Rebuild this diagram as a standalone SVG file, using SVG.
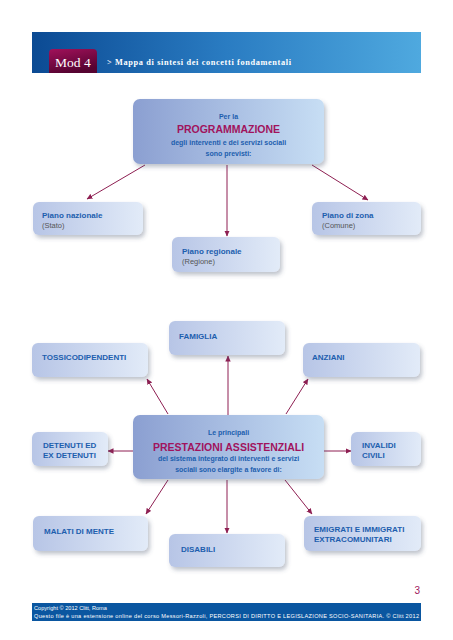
<svg xmlns="http://www.w3.org/2000/svg" width="453" height="640" viewBox="0 0 453 640">
<defs>
<linearGradient id="hdr" x1="0" y1="0" x2="1" y2="0"><stop offset="0" stop-color="#0b4a93"/><stop offset="0.5" stop-color="#2a7cc2"/><stop offset="1" stop-color="#4fa9df"/></linearGradient>
<linearGradient id="mod" x1="0" y1="0" x2="0.4" y2="1"><stop offset="0" stop-color="#a1115a"/><stop offset="1" stop-color="#560331"/></linearGradient>
<linearGradient id="sm" x1="0" y1="0" x2="1" y2="0"><stop offset="0" stop-color="#b7c5e6"/><stop offset="1" stop-color="#e2ebf8"/></linearGradient>
<linearGradient id="bg" x1="0" y1="0" x2="1" y2="0"><stop offset="0" stop-color="#8b9fd1"/><stop offset="1" stop-color="#c7def4"/></linearGradient>
<filter id="sh" x="-10%" y="-20%" width="130%" height="160%"><feDropShadow dx="2" dy="3" stdDeviation="2.2" flood-color="#4a5570" flood-opacity="0.35"/></filter>
<marker id="ah" markerUnits="userSpaceOnUse" markerWidth="6" markerHeight="6" refX="5.5" refY="3" orient="auto"><path d="M0,0.3 L6,3 L0,5.7 z" fill="#8e1f52"/></marker>
</defs>
<style>
.b{fill:url(#sm);filter:url(#sh)}
.B{fill:url(#bg);filter:url(#sh)}
.t{font-family:"Liberation Sans",Arial,sans-serif;font-weight:bold;font-size:8px;fill:#1d5eae}
.g{font-family:"Liberation Sans",Arial,sans-serif;font-size:7.5px;fill:#555}
.c{font-family:"Liberation Sans",Arial,sans-serif;font-weight:bold;font-size:7px;fill:#1d5eae;text-anchor:middle}
.m{font-family:"Liberation Sans",Arial,sans-serif;font-weight:bold;font-size:10.5px;fill:#a1135d;text-anchor:middle}
.ln{stroke:#8e1f52;stroke-width:1;fill:none;marker-end:url(#ah)}
</style>
<rect width="453" height="640" fill="#fff"/>
<g id="header">
<rect x="32" y="32" width="389" height="41" fill="url(#hdr)"/>
<path d="M49,73 V53 Q49,49 53,49 H93 Q97,49 97,53 V73 z" fill="url(#mod)"/>
<text x="55" y="67" font-family="Liberation Serif,serif" font-size="13.5" fill="#fff">Mod 4</text>
<text x="107" y="65" font-family="Liberation Serif,serif" font-weight="bold" font-size="8.3" fill="#fff" textLength="184">&gt; Mappa di sintesi dei concetti fondamentali</text>
</g>
<g id="connectors">
<line class="ln" x1="145" y1="165" x2="87" y2="199"/>
<line class="ln" x1="227" y1="165" x2="227" y2="236"/>
<line class="ln" x1="312" y1="165" x2="368" y2="200"/>
<line class="ln" x1="168" y1="414" x2="147" y2="379"/>
<line class="ln" x1="228" y1="415" x2="228" y2="356"/>
<line class="ln" x1="286" y1="414" x2="308" y2="379"/>
<line class="ln" x1="133" y1="451" x2="108" y2="451"/>
<line class="ln" x1="324" y1="451" x2="351" y2="451"/>
<line class="ln" x1="168" y1="480" x2="146" y2="514"/>
<line class="ln" x1="227" y1="480" x2="227" y2="533"/>
<line class="ln" x1="285" y1="480" x2="312" y2="514"/>
</g>
<g id="programmazione">
<rect class="B" x="133" y="99" width="191" height="65" rx="7"/>
<text class="c" x="228.5" y="118.5">Per la</text>
<text class="m" x="228.5" y="133">PROGRAMMAZIONE</text>
<text class="c" x="228.5" y="145">degli interventi e dei servizi sociali</text>
<text class="c" x="228.5" y="155.5">sono previsti:</text>
</g>
<g id="piano-nazionale">
<rect class="b" x="33" y="202" width="110" height="33" rx="6"/>
<text class="t" x="42" y="218">Piano nazionale</text>
<text class="g" x="42" y="228">(Stato)</text>
</g>
<g id="piano-regionale">
<rect class="b" x="172" y="237" width="108" height="35" rx="6"/>
<text class="t" x="182" y="253.5">Piano regionale</text>
<text class="g" x="182" y="263.5">(Regione)</text>
</g>
<g id="piano-zona">
<rect class="b" x="312" y="202" width="109" height="33" rx="6"/>
<text class="t" x="322" y="218">Piano di zona</text>
<text class="g" x="322" y="228">(Comune)</text>
</g>
<g id="famiglia">
<rect class="b" x="169" y="321" width="116" height="34" rx="6"/>
<text class="t" x="179" y="338.5">FAMIGLIA</text>
</g>
<g id="tossicodipendenti">
<rect class="b" x="32" y="343" width="116" height="34" rx="6"/>
<text class="t" x="42" y="360">TOSSICODIPENDENTI</text>
</g>
<g id="anziani">
<rect class="b" x="303" y="343" width="117" height="34" rx="6"/>
<text class="t" x="312" y="360">ANZIANI</text>
</g>
<g id="prestazioni">
<rect class="B" x="133" y="415" width="191" height="64" rx="7"/>
<text class="c" x="228.5" y="435">Le principali</text>
<text class="m" x="228.5" y="450.5">PRESTAZIONI ASSISTENZIALI</text>
<text class="c" x="228.5" y="460.5">del sistema integrato di interventi e servizi</text>
<text class="c" x="228.5" y="471.5">sociali sono elargite a favore di:</text>
</g>
<g id="detenuti">
<rect class="b" x="32" y="432" width="76" height="34" rx="6"/>
<text class="t" x="43" y="448">DETENUTI ED</text>
<text class="t" x="43" y="458">EX DETENUTI</text>
</g>
<g id="invalidi">
<rect class="b" x="351" y="432" width="70" height="34" rx="6"/>
<text class="t" x="362" y="448">INVALIDI</text>
<text class="t" x="362" y="458">CIVILI</text>
</g>
<g id="malati">
<rect class="b" x="33" y="516" width="115" height="35" rx="6"/>
<text class="t" x="44" y="533.5">MALATI DI MENTE</text>
</g>
<g id="disabili">
<rect class="b" x="169" y="534" width="116" height="33" rx="6"/>
<text class="t" x="181" y="552">DISABILI</text>
</g>
<g id="emigrati">
<rect class="b" x="304" y="516" width="117" height="35" rx="6"/>
<text class="t" x="314" y="532">EMIGRATI E IMMIGRATI</text>
<text class="t" x="314" y="541.5">EXTRACOMUNITARI</text>
</g>
<g id="footer">
<text x="420" y="594" font-family="Liberation Sans,Arial,sans-serif" font-size="10" fill="#a0185c" text-anchor="end">3</text>
<rect x="32" y="603" width="389" height="18" fill="#0a56a0"/>
<text x="34" y="610" font-family="Liberation Sans,Arial,sans-serif" font-size="5.6" fill="#fff">Copyright © 2012 Clitt, Roma</text>
<text x="34" y="618" font-family="Liberation Sans,Arial,sans-serif" font-size="5.6" fill="#fff" textLength="385">Questo file è una estensione online del corso Messori-Razzoli, PERCORSI DI DIRITTO E LEGISLAZIONE SOCIO-SANITARIA. © Clitt 2012</text>
</g>
</svg>
